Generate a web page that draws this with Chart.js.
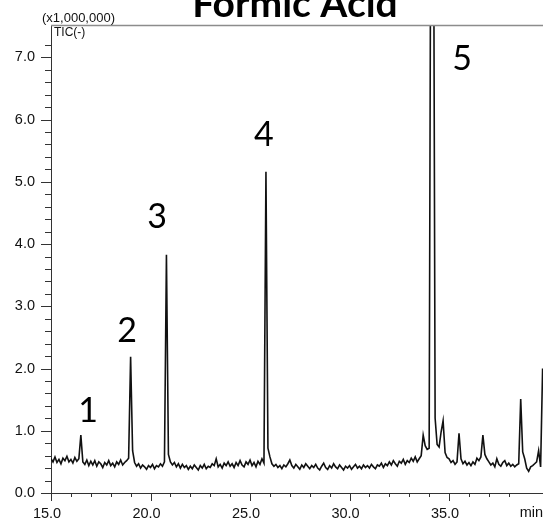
<!DOCTYPE html>
<html>
<head>
<meta charset="utf-8">
<script src="https://cdn.jsdelivr.net/npm/chart.js@4.4.1/dist/chart.umd.min.js"></script>
<style>
  html, body { margin: 0; padding: 0; background: #fff; }
</style>
</head>
<body>
<canvas id="tic" width="543" height="518"></canvas>
<script>
// first scan time and scan interval (min)
const T_START = 15.0;
const T_STEP = 0.1;

// TIC intensity (x1,000,000), one row per minute
const intensity = [
  0.55, 0.50, 0.58, 0.49, 0.54, 0.47, 0.56, 0.52, 0.59, 0.50,
  0.54, 0.48, 0.57, 0.51, 0.55, 0.93, 0.50, 0.46, 0.53, 0.44,
  0.51, 0.45, 0.52, 0.43, 0.50, 0.47, 0.41, 0.49, 0.45, 0.52,
  0.44, 0.48, 0.42, 0.50, 0.46, 0.53, 0.45, 0.49, 0.52, 0.56,
  2.19, 0.68, 0.49, 0.43, 0.47, 0.40, 0.45, 0.42, 0.38, 0.44,
  0.41, 0.46, 0.39, 0.44, 0.42, 0.47, 0.43, 0.50, 3.83, 0.62,
  0.50, 0.45, 0.49, 0.42, 0.47, 0.40, 0.46, 0.41, 0.44, 0.38,
  0.43, 0.39, 0.45, 0.41, 0.37, 0.44, 0.40, 0.46, 0.39, 0.43,
  0.41, 0.47, 0.44, 0.55, 0.42, 0.46, 0.40, 0.48, 0.44, 0.50,
  0.43, 0.47, 0.41, 0.49, 0.44, 0.52, 0.45, 0.42, 0.50, 0.46,
  0.53, 0.44, 0.49, 0.42, 0.51, 0.46, 0.55, 0.48, 5.16, 0.72,
  0.58, 0.47, 0.43, 0.46, 0.41, 0.44, 0.39, 0.45, 0.42, 0.47,
  0.53, 0.44, 0.40, 0.46, 0.42, 0.38, 0.45, 0.41, 0.47, 0.43,
  0.39, 0.44, 0.41, 0.46, 0.40, 0.37, 0.43, 0.48, 0.41, 0.38,
  0.44, 0.40, 0.47, 0.42, 0.39, 0.45, 0.41, 0.37, 0.43, 0.40,
  0.44, 0.38, 0.42, 0.46, 0.40, 0.43, 0.39, 0.45, 0.41, 0.44,
  0.40, 0.46, 0.42, 0.39, 0.45, 0.43, 0.48, 0.41, 0.47, 0.44,
  0.50, 0.45, 0.52, 0.47, 0.43, 0.51, 0.48, 0.54, 0.46, 0.52,
  0.49, 0.56, 0.51, 0.58, 0.50, 0.55, 0.60, 0.93, 0.76, 0.70,
  0.72, 12.0, 12.0, 1.20, 0.78, 0.74, 0.98, 1.16, 0.65, 0.57,
  0.55, 0.49, 0.52, 0.46, 0.50, 0.96, 0.55, 0.47, 0.51, 0.45,
  0.49, 0.44, 0.50, 0.46, 0.56, 0.52, 0.58, 0.93, 0.62, 0.55,
  0.50, 0.45, 0.48, 0.42, 0.55, 0.46, 0.43, 0.49, 0.52, 0.44,
  0.48, 0.43, 0.46, 0.42, 0.45, 0.47, 1.51, 0.66, 0.55, 0.40,
  0.35, 0.42, 0.44, 0.47, 0.50, 0.68, 0.42, 2.00
];

// peak numbers and where their labels sit (min, x1,000,000)
const peakIds = ['1', '2', '3', '4', '5'];
const peakLabelT = [16.86, 18.82, 20.33, 25.70, 35.65];
const peakLabelY = [1.14, 2.43, 4.26, 5.58, 6.80];

const X_MIN = 15.0, X_MAX = 39.72;
const Y_MIN = 0, Y_MAX = 7.52;

const points = intensity.map((v, i) => ({ x: +(T_START + i * T_STEP).toFixed(1), y: v }));

const isStep = (v, s) => Math.abs(v / s - Math.round(v / s)) < 1e-6;
const axisFont = { family: 'Liberation Sans, Arial, sans-serif', size: 14.5 };

// keep the plot box fixed: no extra room for edge labels
const noEdgePadding = s => {
  s.paddingLeft = 0;
  s.paddingRight = 0;
  s.paddingTop = 0;
  s.paddingBottom = 0;
};

// tick marks, frame line and the text around the plot
const decorations = {
  id: 'decorations',
  afterDraw(chart) {
    const { ctx, chartArea: a, scales: { x, y } } = chart;
    ctx.save();

    ctx.strokeStyle = '#8c8c8c';
    ctx.lineWidth = 1.5;
    ctx.beginPath();
    ctx.moveTo(a.left, a.top + 0.5);
    ctx.lineTo(a.right, a.top + 0.5);
    ctx.stroke();

    ctx.strokeStyle = '#333';
    ctx.lineWidth = 1;
    y.ticks.forEach(t => {
      if (!isStep(t.value, 0.2)) return;
      const len = isStep(t.value, 1) ? 10 : 6;
      const py = Math.round(y.getPixelForValue(t.value)) + 0.5;
      ctx.beginPath();
      ctx.moveTo(a.left - len, py);
      ctx.lineTo(a.left, py);
      ctx.stroke();
    });
    x.ticks.forEach(t => {
      if (!isStep(t.value, 1)) return;
      const len = isStep(t.value, 5) ? 8 : 4;
      const px = Math.round(x.getPixelForValue(t.value)) + 0.5;
      ctx.beginPath();
      ctx.moveTo(px, a.bottom);
      ctx.lineTo(px, a.bottom + len);
      ctx.stroke();
    });

    ctx.fillStyle = '#111';
    ctx.textBaseline = 'alphabetic';
    ctx.font = '13px Liberation Sans, Arial, sans-serif';
    ctx.textAlign = 'left';
    ctx.fillText('(x1,000,000)', 42, 22);
    ctx.font = '12px Liberation Sans, Arial, sans-serif';
    ctx.fillText('TIC(-)', 54, 36);
    ctx.font = '14.5px Liberation Sans, Arial, sans-serif';
    ctx.textAlign = 'right';
    ctx.fillText('min', 543, 517);

    ctx.fillStyle = '#000';
    ctx.textAlign = 'center';
    ctx.font = 'bold 39px Lato, sans-serif';
    ctx.fillText('Formic Acid', 295, 17);

    ctx.font = '34px Lato, sans-serif';
    peakIds.forEach((id, i) => {
      ctx.fillText(id, x.getPixelForValue(peakLabelT[i]), y.getPixelForValue(peakLabelY[i]));
    });
    ctx.restore();
  }
};

new Chart(document.getElementById('tic'), {
  type: 'line',
  data: {
    datasets: [{
      data: points,
      borderColor: '#111',
      borderWidth: 1.6,
      pointRadius: 0,
      tension: 0
    }]
  },
  options: {
    responsive: false,
    animation: false,
    devicePixelRatio: 1,
    layout: { padding: { top: 25, right: 0, left: 0, bottom: 0 } },
    plugins: { legend: { display: false }, tooltip: { enabled: false } },
    scales: {
      x: {
        type: 'linear',
        min: X_MIN,
        max: X_MAX,
        afterFit: s => { s.height = 25; noEdgePadding(s); },
        grid: { display: false, drawTicks: false },
        border: { display: true, color: '#333', width: 1 },
        ticks: {
          stepSize: 1,
          autoSkip: false,
          maxRotation: 0,
          padding: 12,
          labelOffset: -4,
          color: '#111',
          font: axisFont,
          callback: v => (isStep(v, 5) ? v.toFixed(1) : '')
        }
      },
      y: {
        min: Y_MIN,
        max: Y_MAX,
        afterFit: s => { s.width = 51; noEdgePadding(s); },
        grid: { display: false, drawTicks: false },
        border: { display: true, color: '#333', width: 1 },
        ticks: {
          stepSize: 0.2,
          autoSkip: false,
          padding: 16,
          color: '#111',
          font: axisFont,
          callback: v => (isStep(v, 1) ? v.toFixed(1) : '')
        }
      }
    }
  },
  plugins: [decorations]
});
</script>
</body>
</html>
